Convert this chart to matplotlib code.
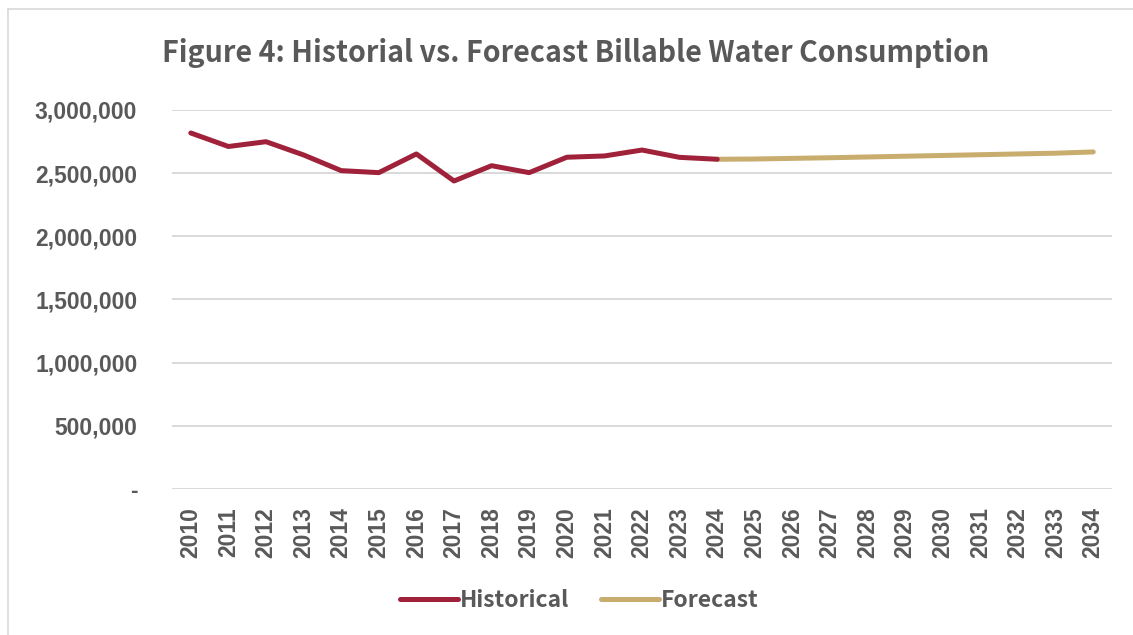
import matplotlib
matplotlib.use("Agg")
import matplotlib.pyplot as plt
from matplotlib.lines import Line2D
from matplotlib.ticker import FuncFormatter

# ------------------------------- DATA ---------------------------------------
years = [str(y) for y in range(2010, 2035)]
hist_years = years[:15]          # 2010-2024
hist_vals = [2818000, 2711000, 2749000, 2644000, 2520000, 2504000, 2652000,
             2438000, 2559000, 2504000, 2626000, 2636000, 2683000, 2625000,
             2610000]
fc_years = years[14:]            # 2024-2034
fc_vals = [2610000, 2612000, 2617000, 2622000, 2628000, 2634000, 2640000,
           2646000, 2652000, 2658000, 2668000]
yticks = [0, 500000, 1000000, 1500000, 2000000, 2500000, 3000000]

TXT = '#595959'
HIST_C = '#A0213A'
FC_C = '#C8AD6F'
CJK_FONT = ['Noto Sans CJK JP', 'DejaVu Sans']

plt.rcParams['font.family'] = ['Liberation Sans', 'DejaVu Sans']
plt.rcParams['font.weight'] = 'bold'

# ------------------------------- FIGURE -------------------------------------
fig = plt.figure(figsize=(11.33, 6.35), dpi=100)
ax = fig.add_axes([0.1518, 0.2299, 0.9815 - 0.1518, 0.8268 - 0.2299])

xi = {y: i for i, y in enumerate(years)}
ax.plot([xi[y] for y in hist_years], hist_vals, color=HIST_C, lw=3.6,
        solid_capstyle='round', solid_joinstyle='round', zorder=3)
ax.plot([xi[y] for y in fc_years], fc_vals, color=FC_C, lw=3.6,
        solid_capstyle='round', solid_joinstyle='round', zorder=2)

ax.set_xlim(-0.5, len(years) - 0.5)
ax.set_ylim(0, 3000000)
ax.set_yticks(yticks)
ax.yaxis.set_major_formatter(FuncFormatter(lambda v, p: '-' if v == 0 else f'{v:,.0f}'))
ax.set_xticks(range(len(years)))
ax.set_xticklabels(years, rotation=90)
ax.grid(axis='y', color='#D9D9D9', lw=1.4)
ax.set_axisbelow(True)
for s in ax.spines.values():
    s.set_visible(False)
ax.tick_params(length=0, colors=TXT, labelsize=16.5)
ax.tick_params(axis='y', pad=25)
ax.tick_params(axis='x', pad=13)

fig.text(0.508, 0.917, 'Figure 4: Historial vs. Forecast Billable Water Consumption',
         ha='center', va='center', fontsize=20.6, fontweight='bold', color=TXT,
         family=CJK_FONT)

handles = [Line2D([], [], color=HIST_C, lw=3.6, solid_capstyle='round'),
           Line2D([], [], color=FC_C, lw=3.6, solid_capstyle='round')]
fig.legend(handles, ['Historical', 'Forecast'], loc='center',
           bbox_to_anchor=(0.5115, 0.055), ncol=2, frameon=False,
           prop={'family': CJK_FONT, 'weight': 'bold', 'size': 16.5},
           labelcolor=TXT, handlelength=2.5, handletextpad=0.1, columnspacing=1.4)

# chart border (left and top edges visible in the crop)
fig.add_artist(Line2D([8 / 1133, 8 / 1133], [0, 1 - 9 / 635], color='#D9D9D9',
                      lw=1.2, transform=fig.transFigure))
fig.add_artist(Line2D([8 / 1133, 1], [1 - 9 / 635, 1 - 9 / 635], color='#D9D9D9',
                      lw=1.2, transform=fig.transFigure))

fig.savefig('out.png', dpi=100)
